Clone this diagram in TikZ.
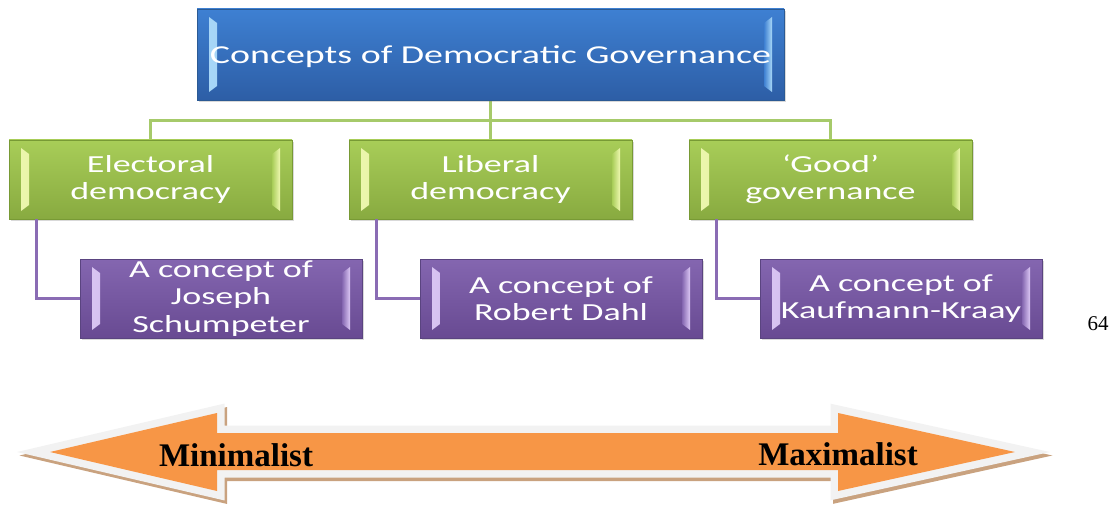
\documentclass[tikz,border=0pt]{standalone}
\usepackage{fontspec}
\setmainfont{Liberation Serif}
\newfontfamily\boxfont[FakeStretch=1.47]{Carlito}
\usetikzlibrary{shadows}

\definecolor{bluetop}{HTML}{3E80D2}
\definecolor{bluebot}{HTML}{2D5EA6}
\definecolor{bluehi}{HTML}{A9D8F8}
\definecolor{blueedge}{HTML}{2B5A94}
\definecolor{greentop}{HTML}{A8CD58}
\definecolor{greenbot}{HTML}{88AA40}
\definecolor{greenhi}{HTML}{EFF8B0}
\definecolor{greenedge}{HTML}{789A35}
\definecolor{purpletop}{HTML}{8466B0}
\definecolor{purplebot}{HTML}{684A92}
\definecolor{purplehi}{HTML}{DCC8F5}
\definecolor{purpleedge}{HTML}{5A4480}
\definecolor{greenlink}{HTML}{A6CA6A}
\definecolor{purplelink}{HTML}{8A6CB4}
\definecolor{arroworange}{HTML}{F79646}
\definecolor{arrowrim}{HTML}{F2F2F2}
\definecolor{arrowshadow}{HTML}{C9A27F}

\newcommand{\twowayarrow}{(50,452) -- (217,413) -- (217,433) -- (838,433) -- (838,413) -- (1015,452) -- (838,491) -- (838,470) -- (217,470) -- (217,491) -- cycle}

\begin{document}
\begin{tikzpicture}[x=1pt,y=-1pt,
      box/.style={rectangle,inner sep=0pt,text=white,align=center,
        draw=#1edge,line width=0.8pt,top color=#1top,bottom color=#1bot,
        drop shadow={opacity=0.3,shadow xshift=1.5pt,shadow yshift=-2pt},
        path picture={
          \shade[left color=#1hi,right color=#1top]
            ([shift={(12pt,-8pt)}]path picture bounding box.north west) --
            ([shift={(20pt,-14pt)}]path picture bounding box.north west) --
            ([shift={(20pt,14pt)}]path picture bounding box.south west) --
            ([shift={(12pt,8pt)}]path picture bounding box.south west) -- cycle;
          \shade[left color=#1top,right color=#1hi]
            ([shift={(-12pt,-8pt)}]path picture bounding box.north east) --
            ([shift={(-20pt,-14pt)}]path picture bounding box.north east) --
            ([shift={(-20pt,14pt)}]path picture bounding box.south east) --
            ([shift={(-12pt,8pt)}]path picture bounding box.south east) -- cycle;
        }},
      level1/.style={box=green,minimum width=283pt,minimum height=79pt,
        font=\boxfont\fontsize{24.5}{27}\selectfont},
      level2/.style={box=purple,minimum width=282pt,minimum height=79pt,
        font=\boxfont\fontsize{24.5}{27.5}\selectfont},
      greenline/.style={greenlink,line width=3pt},
      purpleline/.style={purplelink,line width=3pt},
      pole/.style={anchor=base,font=\bfseries\fontsize{33}{40}\selectfont}]
  \useasboundingbox (0,0) rectangle (1115,505);

  % links
  \coordinate (hub) at (490.5,121);
  \coordinate (elect top) at (150.5,140);
  \coordinate (good top) at (830.5,140);
  \draw[greenline] (elect top) |- (hub) -| (good top);
  \draw[greenline] (490.5,100) -- (490.5,140);

  % boxes
  \node[box=blue,minimum width=587pt,minimum height=91pt,text height=23pt,text depth=4pt,
        font=\boxfont\fontsize{25.8}{30}\selectfont] (top) at (490.5,54.5)
        {Concepts of Democratic Governance};
  \node[level1] (elect) at (150.5,179.5) {Electoral\\democracy};
  \node[level1] (liberal) at (490.5,179.5) {Liberal\\democracy};
  \node[level1] (good) at (830.5,179.5) {‘Good’\\governance};

  \node[level2] (schum) at (221,298.5) {A concept of\\Joseph\\Schumpeter};
  \node[level2] (dahl) at (561,298.5) {A concept of\\Robert Dahl};
  \node[level2] (kraay) at (901,298.5) {A concept of\\Kaufmann-Kraay};

  \draw[purpleline] ([xshift=28pt]elect.south west) |- (schum.west);
  \draw[purpleline] ([xshift=28pt]liberal.south west) |- (dahl.west);
  \draw[purpleline] ([xshift=28pt]good.south west) |- (kraay.west);

  \node[anchor=base,font=\fontsize{21}{25}\selectfont] (page) at (1098,330) {64};

  % scale arrow
  \draw[arrowshadow,fill=arrowshadow,line width=15pt,shift={(2.5,3.5)}] \twowayarrow;
  \draw[arrowrim,fill=arrowrim,line width=15pt] \twowayarrow;
  \fill[arroworange] \twowayarrow;
  \node[pole] (min) at (236,466) {Minimalist};
  \node[pole] (max) at (838,465) {Maximalist};
\end{tikzpicture}
\end{document}
